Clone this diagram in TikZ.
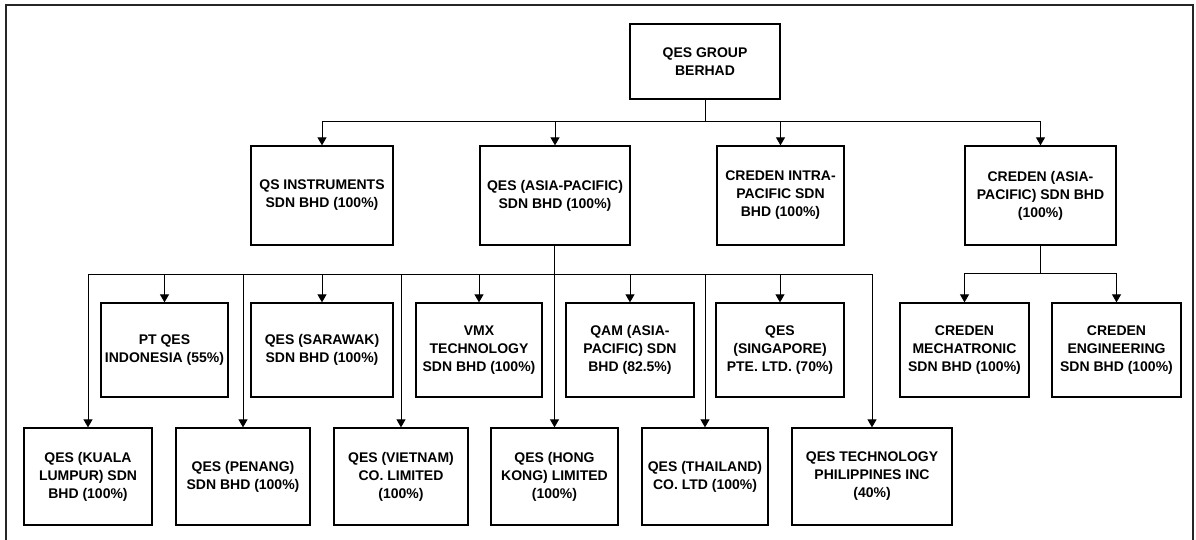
\documentclass[tikz,border=0pt]{standalone}
\usepackage{fontspec}
\setmainfont{Liberation Sans}
\usetikzlibrary{arrows.meta}
\begin{document}
\begin{tikzpicture}[x=1pt,y=-1pt,
  box/.style={draw=black,line width=1.3pt,align=center,inner sep=0pt,
    font=\fontsize{14}{18}\selectfont\bfseries},
  lvtwo/.style={box,minimum height=99pt},
  lvthreea/.style={box,minimum height=94pt},
  lvthreeb/.style={box,minimum height=97pt},
  conn/.style={draw=black,line width=1pt},
  arr/.style={conn,-{Triangle[width=9pt,length=8pt]}}]
\useasboundingbox (0,0) rectangle (1196,540);
\draw[line width=1.3pt,black!85] (6,540) -- (6,5) -- (1193,5) -- (1193,540);

\node[box,minimum width=150pt,minimum height=75pt] (top) at (705,61.5) {QES GROUP\\BERHAD};

\node[lvtwo,minimum width=142pt] (qs) at (322,195.5) {QS INSTRUMENTS\\SDN BHD (100\%)};
\node[lvtwo,minimum width=150pt] (asia) at (555,195.5) {QES (ASIA-PACIFIC)\\SDN BHD (100\%)};
\node[lvtwo,minimum width=127pt] (intra) at (780.5,195.5) {CREDEN INTRA-\\PACIFIC SDN\\BHD (100\%)};
\node[lvtwo,minimum width=151pt] (cap) at (1040.5,195.5) {CREDEN (ASIA-\\PACIFIC) SDN BHD\\(100\%)};

\node[lvthreea,minimum width=127pt] (pt) at (164.5,350) {PT QES\\INDONESIA (55\%)};
\node[lvthreea,minimum width=142pt] (sar) at (322,350) {QES (SARAWAK)\\SDN BHD (100\%)};
\node[lvthreea,minimum width=126pt] (vmx) at (479,350) {VMX\\TECHNOLOGY\\SDN BHD (100\%)};
\node[lvthreea,minimum width=128pt] (qam) at (630,350) {QAM (ASIA-\\PACIFIC) SDN\\BHD (82.5\%)};
\node[lvthreea,minimum width=128pt] (sg) at (780,350) {QES\\(SINGAPORE)\\PTE. LTD. (70\%)};
\node[lvthreea,minimum width=129pt] (mec) at (964.5,350) {CREDEN\\MECHATRONIC\\SDN BHD (100\%)};
\node[lvthreea,minimum width=129pt] (eng) at (1116.5,350) {CREDEN\\ENGINEERING\\SDN BHD (100\%)};

\node[lvthreeb,minimum width=128pt] (kl) at (88,476.5) {QES (KUALA\\LUMPUR) SDN\\BHD (100\%)};
\node[lvthreeb,minimum width=134pt] (pen) at (243,476.5) {QES (PENANG)\\SDN BHD (100\%)};
\node[lvthreeb,minimum width=134pt] (vn) at (401,476.5) {QES (VIETNAM)\\CO. LIMITED\\(100\%)};
\node[lvthreeb,minimum width=127pt] (hk) at (554.5,476.5) {QES (HONG\\KONG) LIMITED\\(100\%)};
\node[lvthreeb,minimum width=126pt] (th) at (705,476.5) {QES (THAILAND)\\CO. LTD (100\%)};
\node[lvthreeb,minimum width=160pt] (ph) at (872,476.5) {QES TECHNOLOGY\\PHILIPPINES INC\\(40\%)};

% level 1 -> level 2
\coordinate (b1) at (705,122);
\draw[conn] (top.south) -- (b1);
\draw[arr] (b1) -| (qs.north);
\draw[arr] (b1) -| (asia.north);
\draw[arr] (b1) -| (intra.north);
\draw[arr] (b1) -| (cap.north);

% QES Asia-Pacific subsidiaries
\coordinate (b2) at (554.5,274);
\draw[arr] (asia.south -| hk.north) -- (hk.north);
\draw[arr] (b2) -| (kl.north);
\draw[arr] (b2) -| (pt.north);
\draw[arr] (b2) -| (pen.north);
\draw[arr] (b2) -| (sar.north);
\draw[arr] (b2) -| (vn.north);
\draw[arr] (b2) -| (vmx.north);
\draw[arr] (b2) -| (qam.north);
\draw[arr] (b2) -| (th.north);
\draw[arr] (b2) -| (sg.north);
\draw[arr] (b2) -| (ph.north);

% Creden Asia-Pacific subsidiaries
\coordinate (b3) at (1040.5,273);
\draw[conn] (cap.south) -- (b3);
\draw[arr] (b3) -| (mec.north);
\draw[arr] (b3) -| (eng.north);
\end{tikzpicture}
\end{document}
